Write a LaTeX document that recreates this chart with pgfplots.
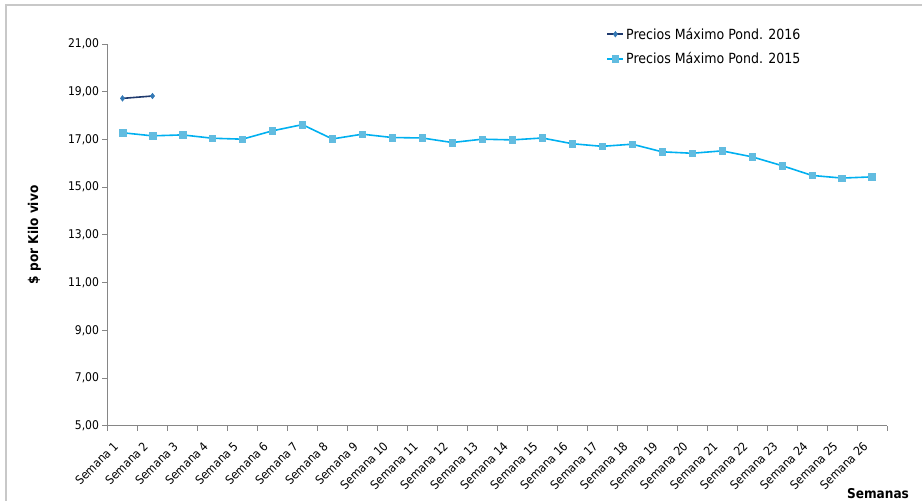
\documentclass[border=0pt]{standalone}
\usepackage{pgfplots}
\pgfplotsset{compat=1.18}
\usepackage{fontspec}
\setmainfont{DejaVu Sans Condensed}
\definecolor{navy16}{HTML}{1F3A6E}
\definecolor{mark16}{HTML}{3479B5}
\definecolor{line15}{HTML}{00B0F0}
\definecolor{mark15}{HTML}{62BCE0}
\definecolor{axgray}{HTML}{868686}
\definecolor{frame}{HTML}{C8C8C8}
\begin{document}
\begin{tikzpicture}
\path[use as bounding box] (0,0) rectangle (922pt,501pt);
\draw[frame,line width=1.5pt] (6pt,0pt) -- (6pt,496pt) -- (922pt,496pt);
\begin{axis}[
  at={(107.5pt,75.3pt)}, anchor=south west,
  scale only axis, width=779.5pt, height=381.7pt,
  xmin=0.5, xmax=26.5, ymin=5, ymax=21,
  axis x line=bottom, axis y line=left,
  axis line style={-, axgray, line width=0.8pt},
  xtick={1,...,26},
  xticklabels={Semana 1,Semana 2,Semana 3,Semana 4,Semana 5,Semana 6,Semana 7,Semana 8,Semana 9,Semana 10,Semana 11,Semana 12,Semana 13,Semana 14,Semana 15,Semana 16,Semana 17,Semana 18,Semana 19,Semana 20,Semana 21,Semana 22,Semana 23,Semana 24,Semana 25,Semana 26},
  minor xtick={0.5,1.5,...,26.5},
  major x tick style={draw=none},
  minor tick length=5pt,
  minor x tick style={axgray, line width=0.8pt},
  ytick={5,7,...,21},
  major tick length=5pt,
  tick align=outside,
  y tick style={axgray, line width=0.8pt},
  xticklabel style={rotate=45, anchor=north east, font=\fontsize{12}{13}\selectfont, inner sep=1pt, xshift=-13pt, yshift=1pt},
  yticklabel style={font=\fontsize{12}{13}\selectfont, /pgf/number format/.cd, fixed, fixed zerofill, precision=2, use comma, assume math mode=true},
  ylabel={\$ por Kilo vivo},
  ylabel style={at={([xshift=-73pt]rel axis cs:0,0.5)}, anchor=center, font=\bfseries\fontsize{13.5}{14}\selectfont},
  xlabel={Semanas},
  xlabel style={at={([xshift=-9pt,yshift=-68pt]rel axis cs:1,0)}, anchor=center, font=\bfseries\fontsize{13.5}{14}\selectfont},
  legend style={at={(rel axis cs:0.64,1.048)}, anchor=north west, draw=none, fill=none, font=\fontsize{14}{15}\selectfont, row sep=8pt, inner sep=0pt, legend cell align=left},
  legend image code/.code={\draw[mark repeat=2,mark phase=2] plot coordinates {(0pt,0pt) (8pt,0pt) (16pt,0pt)};},
]
\addplot[navy16, line width=1.6pt, mark=diamond*, mark size=2.8pt, mark options={fill=mark16, draw=mark16, line width=0.5pt}]
  coordinates {(1,18.72) (2,18.82)};
\addlegendentry{Precios Máximo Pond. 2016}
\addplot[line15, line width=1.6pt, mark=square*, mark size=3.3pt, mark options={fill=mark15, draw=mark15, line width=0.5pt}]
  coordinates {(1,17.28) (2,17.15) (3,17.19) (4,17.05) (5,17.01) (6,17.36) (7,17.62) (8,17.02) (9,17.22) (10,17.08) (11,17.06) (12,16.87) (13,17.01) (14,16.98) (15,17.06) (16,16.82) (17,16.71) (18,16.80) (19,16.48) (20,16.42) (21,16.52) (22,16.27) (23,15.90) (24,15.49) (25,15.38) (26,15.43)};
\addlegendentry{Precios Máximo Pond. 2015}
\end{axis}
\end{tikzpicture}
\end{document}
